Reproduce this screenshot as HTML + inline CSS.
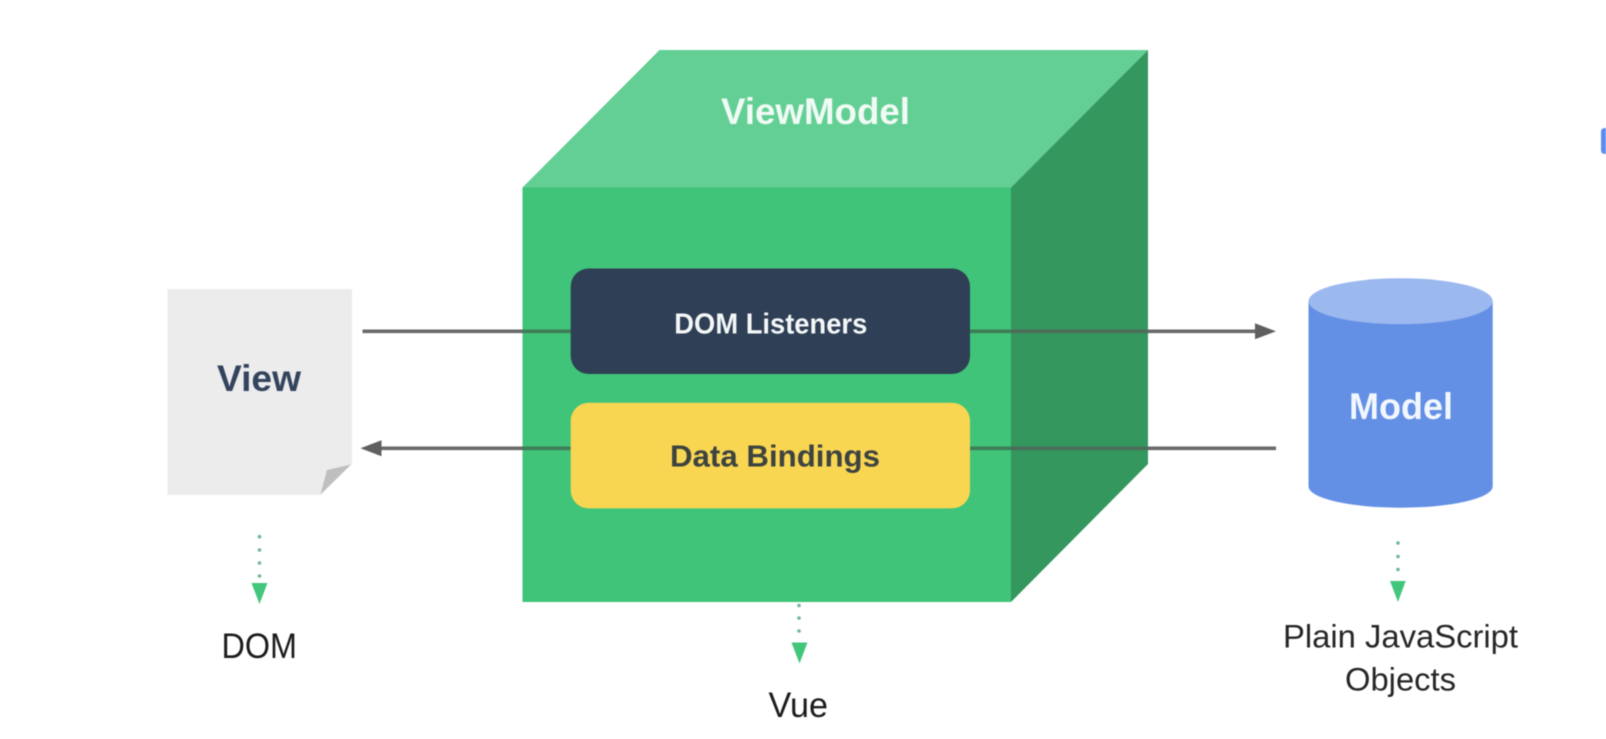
<!DOCTYPE html>
<html>
<head>
<meta charset="utf-8">
<style>
html,body{margin:0;padding:0;background:#fff;width:1606px;height:739px;overflow:hidden}
svg{display:block;position:absolute;left:0;top:0;filter:blur(.5px)}
text{font-family:"Liberation Sans",sans-serif}
.b{font-weight:700}
</style>
</head>
<body>
<svg width="1606" height="739" viewBox="0 0 1606 739" xmlns="http://www.w3.org/2000/svg">
<rect width="1606" height="739" fill="#fff"/>
<!-- stray blue tab -->
<path d="M1606 128H1605Q1601 128 1601 132V150Q1601 154 1605 154H1606Z" fill="#5b8def"/>
<!-- cube -->
<polygon points="522.5,187.5 659.5,50 1148,50 1011,187.5" fill="#64cf94"/>
<polygon points="1011,187.5 1148,50 1148,464 1011,602" fill="#34975e"/>
<rect x="522.5" y="187.5" width="488.5" height="414.5" fill="#3fc479"/>
<text class="b" x="721" y="124" font-size="37.5" fill="#f0fbf5" textLength="189" lengthAdjust="spacingAndGlyphs">ViewModel</text>
<!-- paper -->
<polygon points="167.5,289 352,289 352,464 320.5,495 167.5,495" fill="#ececed"/>
<polygon points="351,464.5 327,470 320.5,494.5" fill="#bfbfbf"/>
<text class="b" x="217" y="391" font-size="37" fill="#33445c" textLength="84" lengthAdjust="spacingAndGlyphs">View</text>
<!-- connectors -->
<g stroke-width="3.6" fill="none">
<line x1="362.5" y1="331.3" x2="522.5" y2="331.3" stroke="#6a6a6a"/>
<line x1="522.5" y1="331.3" x2="571" y2="331.3" stroke="#3f7c58"/>
<line x1="970" y1="331.3" x2="1011" y2="331.3" stroke="#3f7c58"/>
<line x1="1011" y1="331.3" x2="1148" y2="331.3" stroke="#4c6d5a"/>
<line x1="1148" y1="331.3" x2="1258" y2="331.3" stroke="#6a6a6a"/>
<line x1="378" y1="448.3" x2="522.5" y2="448.3" stroke="#6a6a6a"/>
<line x1="522.5" y1="448.3" x2="571" y2="448.3" stroke="#3f7c58"/>
<line x1="970" y1="448.3" x2="1011" y2="448.3" stroke="#3f7c58"/>
<line x1="1011" y1="448.3" x2="1148" y2="448.3" stroke="#4c6d5a"/>
<line x1="1148" y1="448.3" x2="1276" y2="448.3" stroke="#6a6a6a"/>
</g>
<polygon points="1276,331.3 1255,323.3 1255,339.3" fill="#5f5f5f"/>
<polygon points="360.5,448.3 381.5,440.3 381.5,456.3" fill="#5f5f5f"/>
<!-- inner boxes -->
<rect x="570.7" y="268.5" width="399.3" height="105.5" rx="18" fill="#2f3f55"/>
<text class="b" x="674.3" y="333.3" font-size="29" fill="#f4f7f8" textLength="193" lengthAdjust="spacingAndGlyphs">DOM Listeners</text>
<rect x="570.7" y="402.7" width="399.3" height="105.7" rx="18" fill="#f9d652"/>
<text class="b" x="670" y="466.7" font-size="31" fill="#3d4340" textLength="210" lengthAdjust="spacingAndGlyphs">Data Bindings</text>
<!-- cylinder -->
<path d="M1308.5 301.5V486.5A92.1 21.2 0 0 0 1492.7 486.5V301.5Z" fill="#6390e5"/>
<ellipse cx="1400.6" cy="301.2" rx="92.1" ry="23" fill="#9bb8ef"/>
<text class="b" x="1349" y="419" font-size="37" fill="#f2f7fe" textLength="104" lengthAdjust="spacingAndGlyphs">Model</text>
<!-- dotted arrows -->
<g fill="#6fb596">
<circle cx="259.5" cy="536.7" r="1.8"/><circle cx="259.5" cy="550" r="1.8"/><circle cx="259.5" cy="563" r="1.8"/><circle cx="259.5" cy="576" r="1.8"/>
<circle cx="799" cy="605.5" r="1.8"/><circle cx="799" cy="618" r="1.8"/><circle cx="799" cy="631" r="1.8"/>
<circle cx="1398" cy="543" r="1.8"/><circle cx="1398" cy="556.5" r="1.8"/><circle cx="1398" cy="569.5" r="1.8"/>
</g>
<g fill="#41c67b">
<polygon points="251.5,583 267.5,583 259.5,604"/>
<polygon points="791.5,642.5 807.5,642.5 799.5,663.5"/>
<polygon points="1390,581 1405.7,581 1398,602"/>
</g>
<!-- captions -->
<g fill="#1c1c1c" font-size="35">
<text x="221.5" y="658" textLength="75.5" lengthAdjust="spacingAndGlyphs">DOM</text>
<text x="768.5" y="717" textLength="59.5" lengthAdjust="spacingAndGlyphs">Vue</text>
<text x="1283" y="647.3" fill="#262626" font-size="32" textLength="235" lengthAdjust="spacingAndGlyphs">Plain JavaScript</text>
<text x="1345" y="690.7" fill="#262626" font-size="32" textLength="111" lengthAdjust="spacingAndGlyphs">Objects</text>
</g>
</svg>
</body>
</html>
